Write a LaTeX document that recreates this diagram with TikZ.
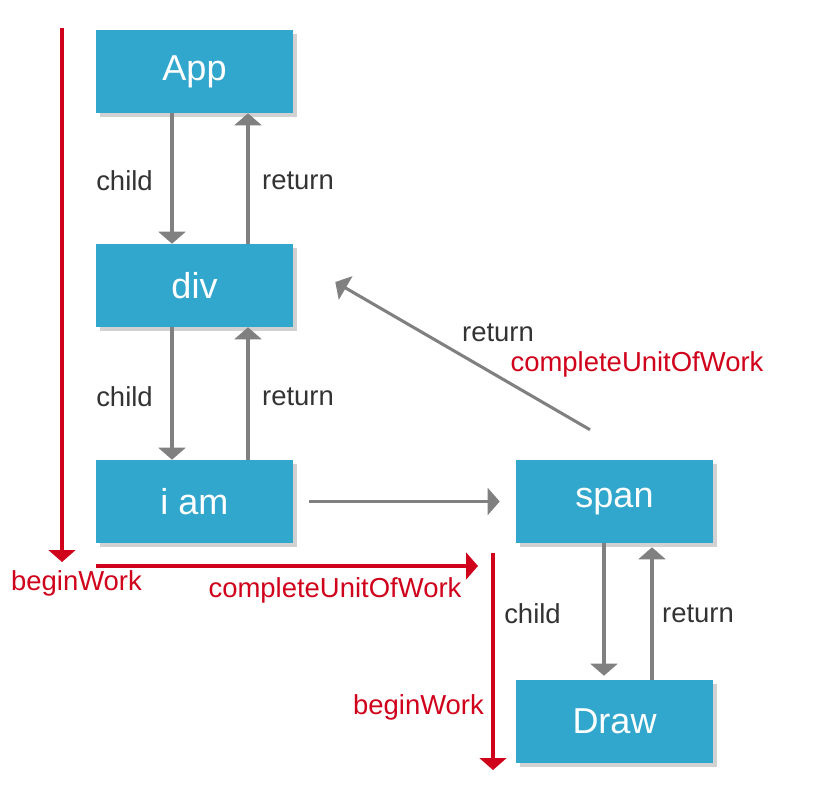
\documentclass[tikz,border=0pt]{standalone}
\usepackage{fontspec}
\setmainfont{Liberation Sans}
\usetikzlibrary{arrows.meta, calc, shadows}
\definecolor{fibercyan}{RGB}{50, 167, 206}
\definecolor{linkgray}{RGB}{128, 128, 128}
\definecolor{workred}{RGB}{208, 2, 27}
\definecolor{labeldark}{RGB}{51, 51, 51}
\tikzset{
  fiber/.style    = {rectangle, fill=fibercyan, minimum width=197*0.75pt, minimum height=83*0.75pt,
                     text=white, font=\fontsize{27}{32}\selectfont, inner sep=0pt,
                     drop shadow={shadow xshift=3pt, shadow yshift=-3pt, opacity=0.18, fill=black}},
  flow/.style     = {-{Triangle[width=20pt, length=9pt]}, line width=2.3pt, linkgray},
  flowred/.style  = {-{Triangle[width=20pt, length=9pt]}, line width=2.3pt, workred},
  lbl/.style      = {font=\fontsize{20.6}{24}\selectfont, text=labeldark, inner sep=0pt},
  lblred/.style   = {font=\fontsize{20.6}{24}\selectfont, text=workred, inner sep=0pt},
}
\begin{document}
\begin{tikzpicture}[x=0.75pt, y=-0.75pt]
\useasboundingbox (0,0) rectangle (828,798);

% ===================== fiber 节点 =====================
\node[fiber] (App)  at (194.5,  71.5) {App};
\node[fiber] (div)  at (194.5, 285.5) {div};
\node[fiber] (iam)  at (194.5, 501.5) {i am};
\node[fiber] (span) at (614.5, 501.5) {span};
\node[fiber] (Draw) at (614.5, 721.5) {Draw};

% ===================== child / return =====================
\draw[flow] ($(App.south)+(-22.5,0)$) -- ($(div.north)+(-22.5,0)$);
\draw[flow] ($(div.north)+(53.5,0)$)  -- ($(App.south)+(53.5,0)$);
\node[lbl] (c1) at (124.5, 181) {child};
\node[lbl] (r1) at (298,   181) {return};

\draw[flow] ($(div.south)+(-22.5,0)$) -- ($(iam.north)+(-22.5,0)$);
\draw[flow] ($(iam.north)+(53.5,0)$)  -- ($(div.south)+(53.5,0)$);
\node[lbl] (c2) at (124.5, 397) {child};
\node[lbl] (r2) at (298,   397) {return};

\draw[flow, shorten <=12pt, shorten >=12pt] (iam.east) -- (span.west);

\draw[flow] ($(span.south)+(-10.5,0)$) -- ($(Draw.north)+(-10.5,-4)$);
\draw[flow] ($(Draw.north)+(37.5,0)$)  -- ($(span.south)+(37.5,4)$);
\node[lbl] (c3) at (532.5, 614) {child};
\node[lbl] (r3) at (698,   614) {return};

% span 返回 div
\draw[flow] ($(span.north)+(-24.5,-30)$) -- ($(div.east)+(42,-3.5)$);
\node[lbl]    (r4) at (498, 333) {return};
\node[lblred] (u1) at (637, 364) {completeUnitOfWork};

% ===================== beginWork / completeUnitOfWork =====================
\coordinate (bwTop)  at (62, 28);
\coordinate (bwEnd)  at (62, 562);
\coordinate (cuStart) at (96, 566);
\coordinate (cuEnd)   at (478, 566);
\coordinate (bw2Top) at (493, 553);
\coordinate (bw2End) at (493, 770);

\draw[flowred] (bwTop) -- (bwEnd);
\draw[flowred] (cuStart) -- (cuEnd);
\draw[flowred] (bw2Top) -- (bw2End);

\node[lblred] (b1) at (76.5, 583) {beginWork};
\node[lblred] (u2) at (335,  590) {completeUnitOfWork};
\node[lblred] (b2) at (418.5, 707) {beginWork};

\end{tikzpicture}
\end{document}
